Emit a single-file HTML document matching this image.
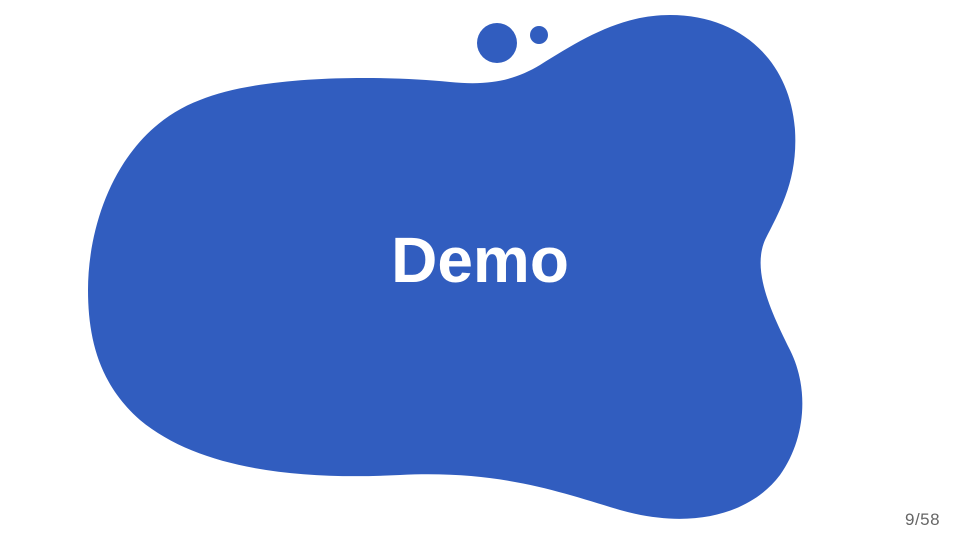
<!DOCTYPE html>
<html><head><meta charset="utf-8"><style>
html,body{margin:0;padding:0;background:#fff;}
body{width:960px;height:540px;position:relative;overflow:hidden;font-family:"Liberation Sans",sans-serif;}
svg{position:absolute;left:0;top:0;}
.t{position:absolute;left:0;width:960px;top:223px;text-align:center;color:#fff;font-weight:bold;font-size:64px;line-height:74px;}
.p{position:absolute;left:905px;top:510px;font-size:17px;color:#666;letter-spacing:0.5px;}
</style></head><body>
<svg width="960" height="540" viewBox="0 0 960 540">
<path fill="#315DBF" d="M 88 290 C 88 220, 120 130, 200 100 C 260 75, 380 75, 450 82 C 490 86, 515 80, 540 65 C 580 40, 620 15, 670 15 C 740 15, 790 60, 795 130 C 798 180, 780 210, 765 240 C 752 270, 770 310, 790 350 C 810 390, 805 440, 780 475 C 750 515, 690 530, 620 510 C 560 492, 500 470, 400 475 C 300 480, 200 470, 140 420 C 100 385, 88 340, 88 290 Z"/>
<circle cx="497" cy="43" r="20" fill="#315DBF"/>
<circle cx="539" cy="35" r="9" fill="#315DBF"/>
</svg>
<div class="t">Demo</div>
<div class="p">9/58</div>
</body></html>
